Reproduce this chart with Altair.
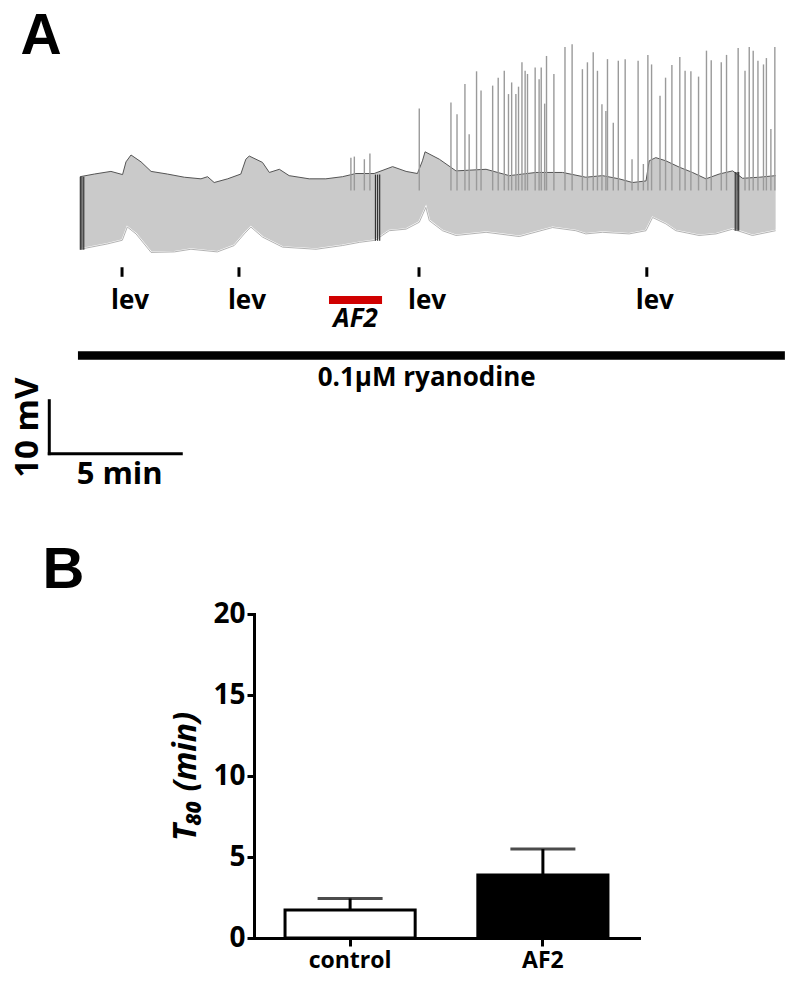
import altair as alt
import pandas as pd

# ---------------- Panel A: intracellular trace (time in min, relative mV) ----------------
upper_t = [0.03, 0.57, 1.20, 1.64, 1.77, 1.96, 2.34, 2.72, 3.34, 3.98,
           4.61, 4.86, 5.11, 5.62, 6.12, 6.31, 6.44, 6.94, 7.20, 7.58,
           7.95, 8.71, 9.34, 9.97, 10.48, 11.17, 11.87, 12.38, 12.81, 13.00,
           13.10, 13.64, 14.27, 15.41, 16.29, 17.30, 18.31, 19.19, 19.82, 20.45,
           20.96, 21.47, 21.59, 21.84, 22.22, 22.73, 23.23, 23.74, 24.24, 24.75,
           25.13, 25.76, 26.38]
upper_v = [14.6, 15.1, 15.6, 15.0, 17.4, 18.7, 17.4, 15.6, 15.1, 14.5,
           14.2, 14.6, 13.5, 14.2, 15.1, 17.9, 18.5, 17.3, 15.4, 16.0,
           14.8, 14.2, 14.2, 14.6, 15.2, 15.2, 16.5, 15.6, 15.2, 17.6,
           19.3, 17.9, 15.7, 16.0, 14.8, 15.4, 15.4, 14.5, 14.8, 14.2,
           13.5, 13.8, 17.6, 18.2, 17.6, 16.4, 15.4, 14.2, 15.1, 15.7,
           14.3, 14.5, 14.8]

lower_t = [0.03, 1.06, 1.63, 1.82, 2.15, 2.72, 3.60, 4.23, 5.23, 5.87,
           6.25, 6.50, 6.94, 7.70, 8.97, 9.97, 10.61, 11.21, 11.74, 12.38,
           12.88, 13.13, 13.26, 13.76, 14.27, 15.41, 16.67, 17.93, 18.81, 19.19,
           19.82, 20.83, 21.47, 21.72, 22.22, 22.60, 23.48, 24.12, 24.75, 25.50,
           26.38]
lower_v = [0.9, 1.9, 2.6, 5.1, 3.8, 0.3, 0.4, 0.9, 0.4, 1.6,
           3.8, 5.1, 3.2, 1.3, 0.9, 1.6, 2.2, 2.6, 4.4, 4.7,
           6.0, 8.8, 6.3, 4.4, 3.5, 4.1, 3.3, 5.0, 4.4, 3.8,
           4.1, 3.8, 4.4, 6.9, 5.7, 4.4, 3.5, 3.8, 4.7, 3.5,
           4.4]

spike_t = [10.29, 10.42, 10.80, 11.01, 12.88, 14.08, 14.31, 14.61, 14.77, 15.05,
           15.22, 15.66, 15.87, 16.10, 16.26, 16.38, 16.54, 16.64, 16.77, 16.89,
           16.98, 17.27, 17.42, 17.50, 17.63, 17.70, 17.98, 18.40, 18.67, 19.06,
           19.25, 19.47, 19.63, 19.80, 19.95, 20.01, 20.23, 20.42, 20.68, 20.94,
           21.17, 21.37, 21.54, 21.68, 22.00, 22.21, 22.45, 22.75, 22.95, 23.17,
           23.46, 23.76, 23.94, 24.32, 24.52, 24.96, 25.22, 25.38, 25.53, 25.71,
           25.92, 26.03, 26.20, 26.35]
spike_v = [18.2, 18.4, 17.9, 19.0, 27.5, 28.6, 26.4, 32.1, 22.6, 34.5,
           30.9, 31.8, 33.3, 34.6, 30.2, 32.4, 30.2, 31.6, 36.2, 34.6,
           34.0, 35.2, 33.0, 35.2, 28.4, 37.4, 34.0, 39.1, 39.6, 34.9,
           36.2, 38.1, 34.6, 28.3, 27.0, 36.8, 24.8, 36.5, 36.8, 17.9,
           36.5, 17.0, 37.6, 35.8, 29.9, 33.3, 35.7, 37.2, 34.6, 34.5,
           33.5, 38.4, 36.6, 36.2, 37.6, 38.9, 34.6, 39.1, 38.4, 36.5,
           35.8, 37.0, 23.6, 39.1]

dark_t = [0.04, 0.10, 0.17, 11.22, 11.30, 11.38, 24.85, 24.92, 24.98]
dark_lo = [0.8, 0.8, 0.8, 2.5, 2.5, 2.5, 4.4, 4.4, 4.4]
dark_hi = [14.6, 14.6, 14.6, 15.0, 15.0, 15.0, 15.5, 15.5, 15.5]

lev_t = [1.62, 6.05, 12.87, 21.50]          # levcromakalim applications
af2_period = [9.46, 11.47]                   # AF2 application
ryanodine_period = [-0.05, 26.73]            # 0.1 uM ryanodine
scale_min = 5
scale_mv = 10

# ---------------- Panel B: T80 ----------------
groups = ["control", "AF2"]
t80_mean = [1.73, 3.89]
t80_sem = [0.71, 1.60]

FONT = "Open Sans"
sx = alt.Scale(domain=[-2.7, 27.0], nice=False, zero=False)
sy = alt.Scale(domain=[-54.19, 45.7], nice=False, zero=False)


def X(f="t"):
    return alt.X(f"{f}:Q", scale=sx, axis=None)


def Y(f="v"):
    return alt.Y(f"{f}:Q", scale=sy, axis=None)


up = pd.DataFrame({"t": upper_t, "v": upper_v, "b": -1.0})
lo = pd.DataFrame({"t": lower_t, "v": lower_v, "b": -1.5})
sp = pd.DataFrame({"t": spike_t, "v": spike_v, "b": 12.0})
dk = pd.DataFrame({"t": dark_t, "v": dark_lo, "b": dark_hi})

gray = alt.Chart(up).mark_area(color="#cacaca").encode(x=X(), y=Y(), y2=alt.Y2("b:Q"))
white = alt.Chart(lo).mark_area(color="white", stroke="white", strokeWidth=2).encode(
    x=X(), y=Y(), y2=alt.Y2("b:Q"))
upline = alt.Chart(up).mark_line(color="#555555", strokeWidth=1).encode(x=X(), y=Y())
loline = alt.Chart(lo).mark_line(color="#a0a0a0", strokeWidth=0.8).encode(x=X(), y=Y())
spikes = alt.Chart(sp).mark_rule(color="#9a9a9a", strokeWidth=1.4).encode(x=X(), y=Y(), y2=alt.Y2("b:Q"))
darks = alt.Chart(dk).mark_rule(color="#333333", strokeWidth=1.2).encode(x=X(), y=Y(), y2=alt.Y2("b:Q"))

levdf = pd.DataFrame({"t": lev_t, "v": -2.5, "b": -4.3, "s": "lev"})
levticks = alt.Chart(levdf).mark_rule(color="black", strokeWidth=3).encode(x=X(), y=Y(), y2=alt.Y2("b:Q"))
levtext = alt.Chart(levdf).mark_text(font=FONT, fontSize=26, fontWeight="bold", dx=8,
                                     baseline="alphabetic", color="black").encode(
    x=X(), y=alt.Y("lv:Q", scale=sy, axis=None), text="s:N").transform_calculate(lv="-10.4")

af2df = pd.DataFrame({"t": [af2_period[0]], "t2": [af2_period[1]], "v": [-8.7]})
af2bar = alt.Chart(af2df).mark_rule(color="#d00000", strokeWidth=8).encode(x=X(), x2=alt.X2("t2:Q"), y=Y())

ryandf = pd.DataFrame({"t": [ryanodine_period[0]], "t2": [ryanodine_period[1]], "v": [-19.15]})
ryanbar = alt.Chart(ryandf).mark_rule(color="black", strokeWidth=8.5).encode(x=X(), x2=alt.X2("t2:Q"), y=Y())

sc_x0 = -1.136
sc_y0 = -37.7
scdf = pd.DataFrame({"t": [sc_x0, sc_x0], "t2": [sc_x0, sc_x0 + scale_min],
                     "v": [sc_y0 + scale_mv, sc_y0], "b": [sc_y0, sc_y0]})
scalebar = alt.Chart(scdf).mark_rule(color="black", strokeWidth=3, strokeCap="square").encode(
    x=X(), x2=alt.X2("t2:Q"), y=Y(), y2=alt.Y2("b:Q"))


def label(text, t, v, **kw):
    df = pd.DataFrame({"t": [t], "v": [v], "s": [text]})
    return alt.Chart(df).mark_text(color="black", **kw).encode(x=X(), y=Y(), text="s:N")


txt_A = label("A", -1.45, 37.7, font="Liberation Sans", fontSize=57, fontWeight="bold", baseline="alphabetic")
txt_af2 = label("AF2", (af2_period[0] + af2_period[1]) / 2, -13.85, font=FONT, fontSize=26,
                fontWeight="bold", fontStyle="italic", baseline="alphabetic")
txt_ryan = label("0.1\u03bcM ryanodine", 13.16, -25.0, font=FONT, fontSize=26, fontWeight="bold",
                 baseline="alphabetic")
txt_mv = label("10 mV", -1.96, -32.8, font=FONT, fontSize=33, fontWeight="bold", angle=270,
               align="center", baseline="middle")
txt_min = label("5 min", 1.53, -43.5, font=FONT, fontSize=31, fontWeight="bold", baseline="alphabetic")

panelA = alt.layer(gray, white, upline, loline, spikes, darks, levticks, levtext, af2bar, ryanbar,
                   scalebar, txt_A, txt_af2, txt_ryan, txt_mv, txt_min).properties(width=784, height=529)

# ---------------- Panel B chart ----------------
dfB = pd.DataFrame({"group": groups, "mean": t80_mean,
                    "upper": [m + s for m, s in zip(t80_mean, t80_sem)]})

xB = alt.X("group:N", sort=groups,
           scale=alt.Scale(paddingInner=0.325, paddingOuter=0.161),
           axis=alt.Axis(title=None, labelAngle=0, labelFont=FONT, labelFontSize=23,
                         labelFontWeight="bold", labelColor="black", tickSize=8, tickWidth=3,
                         tickColor="black", domainWidth=3, domainColor="black", labelPadding=3,
                         domainCap="square"))
yAxis = alt.Axis(values=[0, 5, 10, 15, 20], title="T\u2088\u2080 (min)", grid=False,
                 labelFont=FONT, labelFontSize=28, labelFontWeight="bold", labelColor="black",
                 tickSize=7, tickWidth=3, tickColor="black", domainWidth=3, domainColor="black",
                 labelPadding=2, titleFont=FONT, titleFontSize=32, titleFontWeight="bold",
                 titleFontStyle="italic", titleColor="black", titlePadding=10, domainCap="square")
yScale = alt.Scale(domain=[0, 20], nice=False)

bars = alt.Chart(dfB).mark_bar(stroke="black", strokeWidth=3).encode(
    x=xB, y=alt.Y("mean:Q", scale=yScale, axis=yAxis),
    color=alt.Color("group:N", scale=alt.Scale(domain=groups, range=["white", "black"]), legend=None))
errs = alt.Chart(dfB).mark_rule(color="black", strokeWidth=3).encode(
    x=xB, y=alt.Y("mean:Q", scale=yScale, axis=yAxis), y2=alt.Y2("upper:Q"))
caps = alt.Chart(dfB).mark_tick(color="black", size=65, thickness=3, orient="horizontal").encode(
    x=xB, y=alt.Y("upper:Q", scale=yScale, axis=yAxis))

panelB = alt.layer(bars, errs, caps).properties(width=385, height=324)

# panel letter "B", placed on the same value grid as the bar chart (0-20)
letterB = alt.Chart(pd.DataFrame({"p": [0.345], "q": [21.6], "s": ["B"]})).mark_text(
    font="Liberation Sans", fontSize=58, fontWeight="bold", baseline="alphabetic", color="black").encode(
    x=alt.X("p:Q", scale=alt.Scale(domain=[0, 1]), axis=None),
    y=alt.Y("q:Q", scale=alt.Scale(domain=[0, 20], nice=False), axis=None),
    text="s:N").properties(width=161, height=324)

chart = alt.vconcat(panelA, alt.hconcat(letterB, panelB, spacing=0), spacing=1).configure_view(
    stroke=None).properties(padding=0, background="white")

chart.save("out.html", embed_options={"renderer": "svg", "actions": False})
